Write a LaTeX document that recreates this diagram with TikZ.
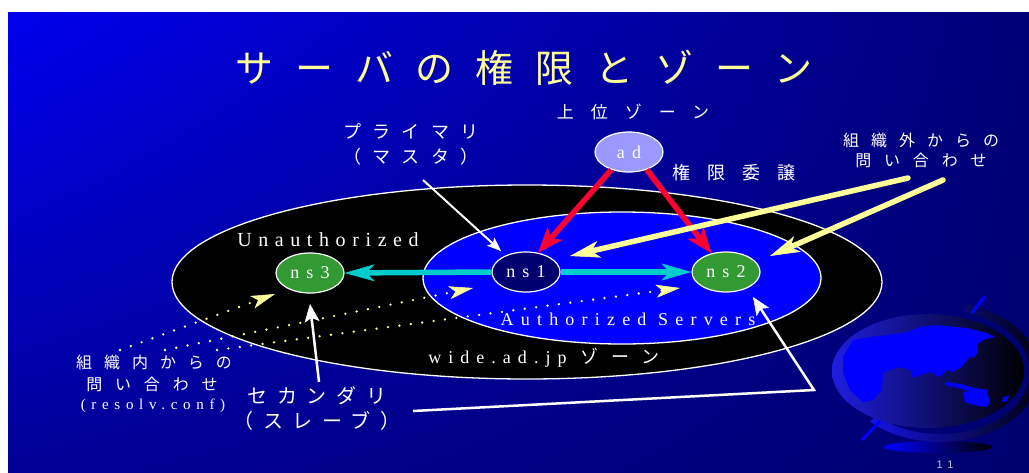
\documentclass[tikz,border=0pt]{standalone}
\usepackage{fontspec}
\setmainfont{Liberation Serif}
\newfontfamily\jp{Noto Sans CJK JP}
\newfontfamily\lsans{Liberation Sans}
\usetikzlibrary{shapes.geometric,arrows.meta,calc,shadings}

% colours
\definecolor{bgA}{RGB}{0,0,238}
\definecolor{bgB}{RGB}{0,0,118}
\definecolor{bgC}{RGB}{0,0,150}
\definecolor{bgD}{RGB}{0,0,112}
\definecolor{ttlyellow}{RGB}{255,255,153}
\definecolor{authblue}{RGB}{0,0,255}
\definecolor{navyfill}{RGB}{0,0,110}
\definecolor{srvgreen}{RGB}{51,153,51}
\definecolor{adfill}{RGB}{153,153,255}
\definecolor{arrcyan}{RGB}{0,204,204}
\definecolor{arrred}{RGB}{255,0,51}
\definecolor{arryel}{RGB}{255,255,153}
\definecolor{globeside}{RGB}{30,30,225}
\definecolor{globeland}{RGB}{0,0,255}
\definecolor{ringblue}{RGB}{20,20,225}
\definecolor{pagegray}{RGB}{190,190,215}

% letter-spaced text helpers
\newcommand\jpls[2]{\jp\fontsize{#1}{#1}\selectfont\addfontfeature{LetterSpace=#2}}
\newcommand\rmls[2]{\fontsize{#1}{#1}\selectfont\addfontfeature{LetterSpace=#2}}

\begin{document}
\begin{tikzpicture}[x=1pt,y=-1pt,
  lbl/.style={text=white, inner sep=0pt},
  srv/.style={ellipse, draw=white, line width=1.2pt, minimum width=68pt,
    minimum height=40pt, inner sep=0pt, text=white,
    font=\rmls{18}{40}},
  zoneshape/.style={ellipse, draw=white, line width=1.3pt, inner sep=0pt},
  cyanarrow/.style={draw=arrcyan, line width=5.5pt,
    -{Stealth[length=30pt,width=17pt,inset=8pt,line width=0.5pt]}},
  redarrow/.style={draw=arrred, line width=5.5pt,
    -{Stealth[length=26pt,width=20pt,inset=7pt,line width=0.5pt]}},
  yelarrow/.style={draw=arryel, line width=5.5pt, line cap=round,
    -{Stealth[length=30pt,width=17pt,inset=8pt,line width=0.5pt]}},
  yeldots/.style={draw=arryel, line width=2.6pt, line cap=round,
    dash pattern=on 0pt off 11.5pt,
    -{Stealth[length=24pt,width=13pt,inset=6pt,line width=0.5pt]}},
  thinwhite/.style={draw=white, line width=2pt,
    -{Stealth[length=14pt,width=11pt,inset=3pt,line width=0.5pt]}},
  widewhite/.style={draw=white, line width=2.5pt,
    -{Stealth[length=18pt,width=15pt,inset=4pt,line width=0.5pt]}},
]
\useasboundingbox (0,0) rectangle (1029,472);
\fill[white] (0,0) rectangle (1029,472);

% slide background
\shade[upper left=bgA, upper right=bgB, lower left=bgC, lower right=bgD]
  (8,12) rectangle (1029,472);

% globe ornament
\shade[left color=globeland, right color=black]
  (938,447) ellipse [x radius=54, y radius=6];
\shade[left color=ringblue, right color=black]
  ($(940,372)+(-75:99 and 70)$)
  arc[start angle=-75, end angle=135, x radius=99, y radius=70]
  -- ($(940,372)+(135:90 and 62)$)
  arc[start angle=135, end angle=-75, x radius=90, y radius=62] -- cycle;
\shade[left color=globeside, right color=black]
  (928,371) ellipse [x radius=96, y radius=57];
\begin{scope}
  \clip (928,371) ellipse [x radius=96, y radius=57];
  \fill[globeland] (843,357) -- (853,340) -- (870,337) -- (887,335)
    -- (907,332) -- (920,327) -- (937,325) -- (967,328) -- (987,333)
    -- (995,337) -- (983,340) -- (977,345) -- (973,355) -- (967,360)
    -- (962,367) -- (953,372) -- (947,370) -- (940,377) -- (930,372)
    -- (920,375) -- (913,378) -- (910,370) -- (900,367) -- (890,370)
    -- (883,373) -- (882,390) -- (873,400) -- (863,402) -- (850,390)
    -- (843,373) -- cycle;
  \fill[globeland] (972,344) -- (976,342) -- (978,352) -- (974,358)
    -- (970,356) -- cycle;
  \fill[globeland] (946,382) -- (960,384) -- (975,388) -- (988,390)
    -- (987,393) -- (972,392) -- (958,388) -- (945,385) -- cycle;
  \fill[globeland] (963,392) -- (977,390) -- (987,393) -- (990,402)
    -- (987,407) -- (973,405) -- (965,402) -- cycle;
  \fill[globeland] (1003,397) -- (1009,396) -- (1007,401) -- (1002,402)
    -- cycle;
\end{scope}
\draw[globeland, line width=3pt] (972,313) -- (985,296);
\draw[globeland, line width=3pt] (862,440) -- (880,421);

% title
\node[inner sep=0pt, text=ttlyellow] (title) at (524,68)
  {\jpls{38}{58}サーバの権限とゾーン};

% zones
\node[zoneshape, fill=black, minimum width=710pt, minimum height=194pt]
  (zone) at (527,282) {};
\node[zoneshape, fill=authblue, minimum width=398pt, minimum height=132pt]
  (auth) at (622,278) {};

\node[lbl] (unauth) at (328,240) {\rmls{20}{33}Unauthorized};
\node[lbl] (authlbl) at (628,319) {\rmls{18}{40}Authorized Servers};
\node[lbl] (zonelbl) at (544,358)
  {{\rmls{18}{39}wide.ad.jp}\hspace{14pt}{\jpls{18}{72}ゾーン}};

% servers
\node[srv, fill=adfill] (ad) at (629,152) {ad};
\node[srv, fill=srvgreen] (ns3) at (310,273) {ns3};
\node[srv, fill=navyfill] (ns1) at (526,272) {ns1};
\node[srv, fill=srvgreen] (ns2) at (726,272) {ns2};

% labels
\node[lbl] (upper) at (633,112) {\jpls{17}{100}上位ゾーン};
\node[lbl] (prim1) at (411,131) {\jpls{18}{62}プライマリ};
\node[lbl] (prim2) at (411,157) {\jpls{18}{62}（マスタ）};
\node[lbl] (deleg) at (734,173) {\jpls{18}{95}権限委譲};
\node[lbl] (ext1) at (921,140) {\jpls{16}{75}組織外からの};
\node[lbl] (ext2) at (921,160) {\jpls{16}{80}問い合わせ};
\node[lbl] (int1) at (154,362) {\jpls{16}{75}組織内からの};
\node[lbl] (int2) at (152,384) {\jpls{16}{80}問い合わせ};
\node[lbl] (int3) at (153,406) {\rmls{15}{38}(resolv.conf)};
\node[lbl] (sec1) at (317,396) {\jpls{20}{48}セカンダリ};
\node[lbl] (sec2) at (317,421) {\jpls{20}{48}（スレーブ）};
\node[text=pagegray, inner sep=0pt] (page) at (945,465)
  {\lsans\rmls{11}{50}11};

% connector ends
\coordinate (primfoot) at (423,180);
\coordinate (primtip) at (501,251);
\coordinate (extA) at (908,178);
\coordinate (extB) at (943,180);
\coordinate (ns1in) at (570,256);
\coordinate (ns2in) at (770,256);
\coordinate (intA) at (120,350);
\coordinate (intB) at (165,350);
\coordinate (intC) at (217,350);
\coordinate (ns3dot) at (275,294);
\coordinate (ns1dot) at (473,288);
\coordinate (ns2dot) at (680,288);
\coordinate (secfoot) at (319,382);
\coordinate (ns3foot) at (310,304);
\coordinate (secline) at (413,411);
\coordinate (secbend) at (814,390);
\coordinate (ns2foot) at (753,297);

% zone transfers
\draw[cyanarrow] (ns1.west) -- (ns3.east);
\draw[cyanarrow] (ns1.east) -- (ns2.west);

% delegation
\draw[redarrow] (ad.-135) -- (ns1.58);
\draw[redarrow] (ad.-45) -- (ns2.128);

% outside queries
\draw[yelarrow] (extA) -- (ns1in);
\draw[yelarrow] (extB) -- (ns2in);

% inside queries
\draw[yeldots] (intA) -- (ns3dot);
\draw[yeldots] (intB) -- (ns1dot);
\draw[yeldots] (intC) -- (ns2dot);

% pointers from the labels
\draw[thinwhite] (primfoot) -- (primtip);
\draw[widewhite] (secfoot) -- (ns3foot);
\draw[widewhite] (secline) -- (secbend) -- (ns2foot);
\end{tikzpicture}
\end{document}
